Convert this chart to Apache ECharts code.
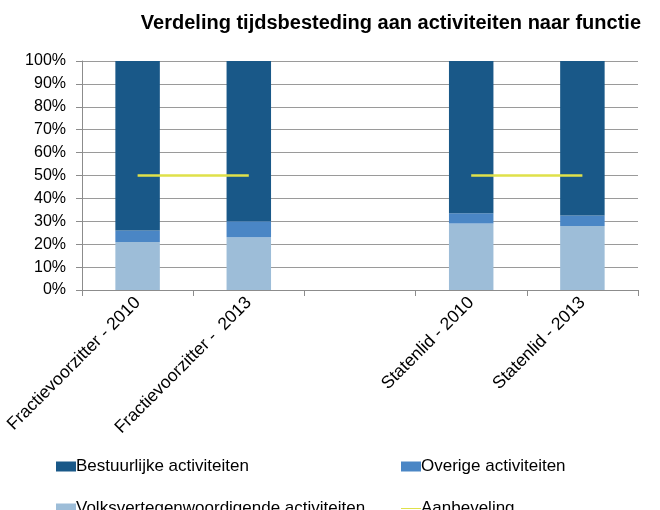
<!DOCTYPE html>
<html><head><meta charset="utf-8">
<script src="https://cdn.jsdelivr.net/npm/echarts@6/dist/echarts.min.js"></script>
<style>html,body{margin:0;padding:0;background:#fff}#c{width:660px;height:510px}</style>
</head><body><div id="c"></div>
<script>
const categories = ['Fractievoorzitter - 2010', 'Fractievoorzitter -  2013', '', 'Statenlid - 2010', 'Statenlid - 2013'];
const volks = [21, 23, null, 29, 28];
const overige = [5, 7, null, 4.5, 4.5];
const bestuurlijk = [74, 70, null, 66.5, 67.5];
const aanbeveling = [50, 50, null, 50, 50];
const yTicks = [0, 10, 20, 30, 40, 50, 60, 70, 80, 90, 100];

const font = 'Liberation Sans';
const legText = { fontFamily: font, fontSize: 17, color: '#000', padding: [0, 0, 0, -5] };
function leg(left, top, item) {
  return { left: left, top: top, itemWidth: 20, itemHeight: 10, textStyle: legText, data: [item] };
}
const chart = echarts.init(document.getElementById('c'));
chart.setOption({
  animation: false,
  textStyle: { fontFamily: font },
  title: {
    text: 'Verdeling tijdsbesteding aan activiteiten naar functie',
    right: 14, top: 8,
    textStyle: { fontFamily: font, fontSize: 20, fontWeight: 'bold', color: '#000' }
  },
  grid: { left: 82, right: 22, top: 61, bottom: 220, containLabel: false },
  legend: [
    leg(51, 453, { name: 'Bestuurlijke activiteiten', icon: 'rect' }),
    leg(51, 495, { name: 'Volksvertegenwoordigende activiteiten', icon: 'rect' }),
    leg(396, 453, { name: 'Overige activiteiten', icon: 'rect' }),
    leg(396, 495, { name: 'Aanbeveling', icon: 'path://M0,0 L20,0 L20,1 L0,1 Z' })
  ],
  xAxis: {
    type: 'category', data: categories,
    axisLine: { lineStyle: { color: '#8c8c8c' } },
    axisTick: { show: true, length: 6, lineStyle: { color: '#8c8c8c' } },
    axisLabel: { rotate: 45, fontSize: 17.5, color: '#000', margin: 10, interval: 0 }
  },
  yAxis: {
    type: 'value', min: 0, max: 100, interval: 10,
    axisLine: { show: true, lineStyle: { color: '#8c8c8c' } },
    axisTick: { show: true, length: 6, lineStyle: { color: '#8c8c8c' } },
    splitLine: { lineStyle: { color: '#9a9a9a' } },
    axisLabel: { fontSize: 16, color: '#000', margin: 16,
      formatter: v => yTicks.includes(v) ? v + '%' : '' }
  },
  series: [
    { name: 'Volksvertegenwoordigende activiteiten', type: 'bar', stack: 's', data: volks,
      barWidth: '40%', itemStyle: { color: '#9dbdd8' } },
    { name: 'Overige activiteiten', type: 'bar', stack: 's', data: overige,
      itemStyle: { color: '#4a86c5' } },
    { name: 'Bestuurlijke activiteiten', type: 'bar', stack: 's', data: bestuurlijk,
      itemStyle: { color: '#195888' } },
    { name: 'Aanbeveling', type: 'line', data: aanbeveling, symbol: 'none',
      connectNulls: false, z: 5,
      lineStyle: { color: '#dfe14a', width: 2.5 }, itemStyle: { color: '#dfe14a' } }
  ]
});
</script></body></html>
